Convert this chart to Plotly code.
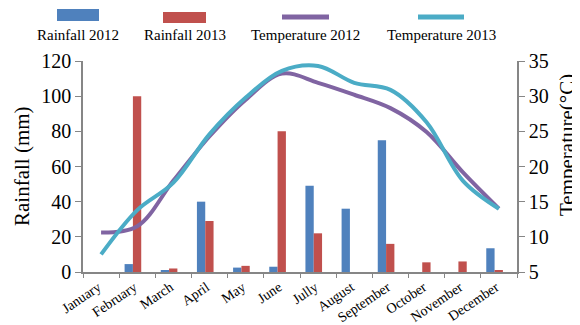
import plotly.graph_objects as go

months = ["January", "February", "March", "April", "May", "June", "Jully",
          "August", "September", "October", "November", "December"]
rain_2012 = [0, 4.5, 1, 40, 2.5, 3, 49, 36, 75, 0, 0, 13.5]
rain_2013 = [0, 100, 2, 29, 3.5, 80, 22, 0, 16, 5.5, 6, 1]
temp_2012 = [10.6, 11.5, 18.0, 24.3, 29.5, 33.2, 31.9, 30.2, 28.3, 24.9, 19.2, 14.0]
temp_2013 = [7.5, 13.8, 17.7, 24.6, 29.8, 33.6, 34.3, 31.9, 30.9, 26.3, 18.0, 14.0]

C_BLUE = "#4F81BD"
C_RED = "#C0504D"
C_PURPLE = "#8064A2"
C_CYAN = "#4BACC6"
FONT = "Liberation Serif, Times New Roman, DejaVu Serif, serif"

# page body has an 8px margin: size the figure to fit the 580x325 window
OFF = 8
W, H = 580 - OFF, 325 - OFF
# plot area in window pixels
L, R, T, B = 83, 517, 61, 272


def px(x):
    return (x - L) / (R - L)


def py(y):
    return (B - y) / (B - T)


fig = go.Figure()
fig.add_bar(x=months, y=rain_2012, name="Rainfall 2012", marker_color=C_BLUE,
            width=0.23, offset=-0.35, yaxis="y")
fig.add_bar(x=months, y=rain_2013, name="Rainfall 2013", marker_color=C_RED,
            width=0.23, offset=-0.12, yaxis="y")
fig.add_scatter(x=months, y=temp_2012, name="Temperature 2012", mode="lines",
                line=dict(color=C_PURPLE, width=4, shape="spline", smoothing=1.0),
                yaxis="y2")
fig.add_scatter(x=months, y=temp_2013, name="Temperature 2013", mode="lines",
                line=dict(color=C_CYAN, width=4, shape="spline", smoothing=1.0),
                yaxis="y2")

axis_col = "#868686"
fig.update_layout(
    template="none",
    width=W, height=H,
    margin=dict(l=L - OFF, r=580 - R, t=T - OFF, b=325 - B, autoexpand=False),
    paper_bgcolor="white", plot_bgcolor="white",
    showlegend=False,
    font=dict(family=FONT, color="black"),
    barmode="overlay",
    xaxis=dict(type="category", tickangle=-34, tickfont=dict(size=14, family=FONT),
               ticklabelshift=-3,
               showline=True, linecolor=axis_col, linewidth=1.5,
               ticks="outside", ticklen=4, tickcolor=axis_col, tickson="boundaries",
               showgrid=False, zeroline=False, automargin=False),
    yaxis=dict(range=[0, 120], dtick=20, tickfont=dict(size=20, family=FONT),
               showline=True, linecolor=axis_col, linewidth=1.5,
               ticks="outside", ticklen=6, tickcolor=axis_col,
               showgrid=False, zeroline=False, automargin=False),
    yaxis2=dict(range=[5, 35], dtick=5, overlaying="y", side="right",
                tickfont=dict(size=20, family=FONT),
                showline=True, linecolor=axis_col, linewidth=1.5,
                ticks="outside", ticklen=6, tickcolor=axis_col,
                showgrid=False, zeroline=False, automargin=False),
)

# Axis titles
fig.add_annotation(text="Rainfall (mm)", xref="paper", yref="paper", x=px(22), y=py(166),
                   textangle=-90, showarrow=False, xanchor="center", yanchor="middle",
                   font=dict(size=21, family=FONT, color="black"))
fig.add_annotation(text="Temperature(°C)", xref="paper", yref="paper", x=px(567), y=py(145),
                   textangle=-90, showarrow=False, xanchor="center", yanchor="middle",
                   font=dict(size=21, family=FONT, color="black"))

# Custom legend (symbol above label, Excel style)
legend_items = [
    ("Rainfall 2012", "rect", C_BLUE, 57, 99, 9, 21, 78),
    ("Rainfall 2013", "rect", C_RED, 163, 206, 12, 23, 185),
    ("Temperature 2012", "line", C_PURPLE, 282, 329, 17, 17, 305),
    ("Temperature 2013", "line", C_CYAN, 418, 464, 17, 17, 441),
]
for label, kind, col, x0, x1, y0, y1, tx in legend_items:
    if kind == "rect":
        fig.add_shape(type="rect", xref="paper", yref="paper",
                      x0=px(x0), x1=px(x1), y0=py(y1), y1=py(y0),
                      fillcolor=col, line=dict(width=0))
    else:
        fig.add_shape(type="line", xref="paper", yref="paper",
                      x0=px(x0), x1=px(x1), y0=py(y0), y1=py(y0),
                      line=dict(color=col, width=5))
    fig.add_annotation(text=label, xref="paper", yref="paper", x=px(tx), y=py(35),
                       showarrow=False, xanchor="center", yanchor="middle",
                       font=dict(size=15, family=FONT, color="black"))

fig.write_html("out.html")
